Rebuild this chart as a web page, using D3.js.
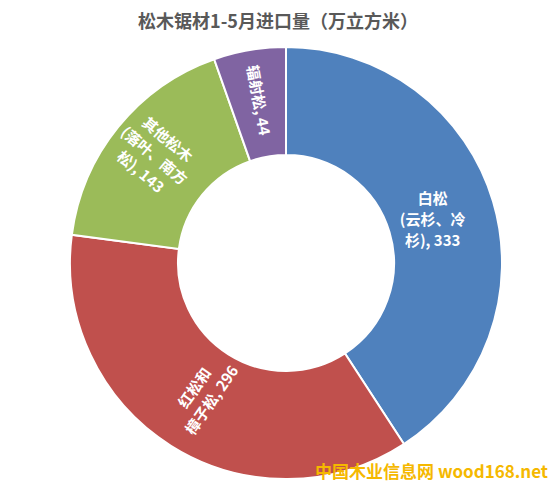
<!DOCTYPE html>
<html><head><meta charset="utf-8">
<script src="https://cdn.jsdelivr.net/npm/d3@7"></script>
<style>body{margin:0;background:#fff}text{font-family:"Noto Sans CJK SC","Noto Sans",sans-serif}</style>
</head><body><div id="chart"></div>
<script>
const categories = ["白松", "红松和樟子松", "其他松木", "辐射松"];
const values = [333, 296, 143, 44];
const labelLines = [
  ["白松", "(云杉、冷", "杉), 333"],
  ["红松和", "樟子松, 296"],
  ["其他松木", "(落叶、南方", "松), 143"],
  ["辐射松, 44"]
];
const colors = ["#4f81bd", "#c0504d", "#9bbb59", "#8064a2"];
// label placement: distance from centre, rotation
const labelPos = [{d: 153, rot: 0}, {d: 155, rot: -55}, {d: 170, rot: 40}, {d: 165, rot: 80}];

const W = 556, H = 488, cx = 286, cy = 263, R = 216, r0 = 108;
const svg = d3.select("#chart").append("svg").attr("width", W).attr("height", H);

svg.append("text").attr("x", W / 2).attr("y", 28).attr("text-anchor", "middle")
  .attr("font-size", 18).attr("font-weight", "bold").attr("fill", "#595959")
  .text("松木锯材1-5月进口量（万立方米）");

const pie = d3.pie().sort(null)(values);
const arc = d3.arc().innerRadius(r0).outerRadius(R);
const g = svg.append("g").attr("transform", `translate(${cx},${cy})`);
g.selectAll("path").data(pie).join("path")
  .attr("d", arc).attr("fill", (d, i) => colors[i])
  .attr("stroke", "#fff").attr("stroke-width", 2);

pie.forEach((d, i) => {
  const mid = (d.startAngle + d.endAngle) / 2;
  const dist = labelPos[i].d;
  const x = Math.sin(mid) * dist, y = -Math.cos(mid) * dist;
  const lines = labelLines[i];
  const t = g.append("text").attr("transform", `translate(${x},${y}) rotate(${labelPos[i].rot})`)
    .attr("text-anchor", "middle").attr("fill", "#fff").attr("font-size", 15).attr("font-weight", "bold");
  lines.forEach((s, k) => t.append("tspan").attr("x", 0)
    .attr("dy", k === 0 ? `${-(lines.length - 1) * 0.7 + 0.35}em` : "1.4em").text(s));
});

svg.append("text").attr("x", 548).attr("y", 478).attr("text-anchor", "end")
  .attr("font-size", 17).attr("font-weight", "bold").attr("fill", "#f5b800")
  .text("中国木业信息网 wood168.net");
</script></body></html>
